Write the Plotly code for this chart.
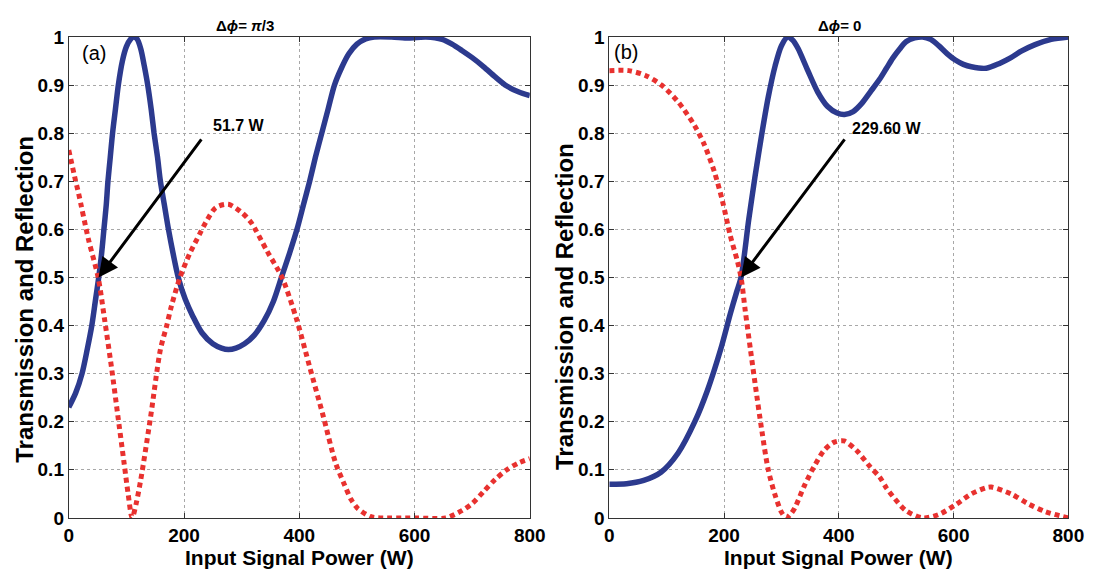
import plotly.graph_objects as go

# ---- data: panel (a), delta phi = pi/3 ----
power_a_T = [0, 12, 23, 32, 40, 46, 52, 57, 61, 65, 68, 72, 76, 81, 86, 93, 100, 107, 113, 119,
             125, 131, 137, 143, 148, 154, 159, 166, 173, 181, 190, 202, 215, 231, 250, 265, 277,
             290, 305, 322, 339, 355, 369, 383, 396, 407, 418, 428, 439, 450, 461, 473, 486, 500,
             515, 530, 560, 590, 620, 648, 665, 682, 700, 720, 740, 760, 780, 800]
trans_a = [0.23, 0.26, 0.30, 0.35, 0.40, 0.45, 0.50, 0.55, 0.60, 0.65, 0.70, 0.75, 0.80, 0.85, 0.90,
           0.95, 0.98, 0.995, 1.00, 0.995, 0.975, 0.94, 0.90, 0.85, 0.80, 0.75, 0.70, 0.65, 0.60,
           0.55, 0.50, 0.455, 0.42, 0.385, 0.362, 0.353, 0.35, 0.353, 0.362, 0.38, 0.41, 0.45,
           0.50, 0.55, 0.60, 0.65, 0.70, 0.75, 0.80, 0.85, 0.90, 0.935, 0.965, 0.985, 0.996, 1.00,
           1.00, 0.998, 1.00, 0.995, 0.985, 0.972, 0.957, 0.938, 0.917, 0.898, 0.886, 0.878]

power_a_R = [0, 12, 17, 34, 51, 62, 74, 85, 96, 103, 110, 117, 125, 142, 159, 170, 178, 193, 210,
             227, 238, 255, 277, 300, 316, 344, 370, 395, 418, 441, 463, 478, 490, 501, 523, 540,
             600, 654, 682, 700, 720, 740, 760, 780, 800]
refl_a = [0.765, 0.70, 0.675, 0.58, 0.50, 0.414, 0.314, 0.214, 0.114, 0.05, 0.0, 0.03, 0.08, 0.21,
          0.35, 0.40, 0.44, 0.50, 0.55, 0.59, 0.615, 0.645, 0.652, 0.635, 0.615, 0.555, 0.50, 0.414,
          0.314, 0.214, 0.114, 0.07, 0.038, 0.02, 0.003, 0.0, 0.0, 0.0, 0.015, 0.03, 0.055, 0.08,
          0.10, 0.114, 0.123]

# ---- data: panel (b), delta phi = 0 ----
power_b_T = [0, 30, 60, 90, 120, 149, 171, 194, 211, 222, 229.6, 243, 254, 266, 277, 289, 300, 311,
             320, 329, 346, 363, 380, 397, 410, 425, 440, 455, 471, 483, 494, 506, 517, 532, 546,
             560, 574, 589, 603, 617, 631, 657, 680, 700, 717, 742, 770, 800]
trans_b = [0.07, 0.071, 0.078, 0.095, 0.135, 0.20, 0.265, 0.35, 0.425, 0.47, 0.50, 0.62, 0.71, 0.80,
           0.875, 0.94, 0.982, 1.00, 0.993, 0.976, 0.93, 0.886, 0.856, 0.842, 0.839, 0.845, 0.862,
           0.886, 0.912, 0.935, 0.956, 0.975, 0.99, 0.998, 1.00, 0.995, 0.982, 0.965, 0.952, 0.943,
           0.938, 0.935, 0.945, 0.957, 0.97, 0.984, 0.995, 1.00]

power_b_R = [0, 34, 63, 91, 120, 149, 166, 183, 197, 211, 223, 229.6, 237, 246, 254, 266, 277, 289,
             300, 308, 316, 323, 340, 357, 374, 391, 409, 431, 454, 471, 483, 494, 517, 546, 574,
             603, 631, 657, 666, 700, 729, 760, 800]
refl_b = [0.93, 0.93, 0.92, 0.90, 0.865, 0.815, 0.775, 0.72, 0.66, 0.586, 0.535, 0.50, 0.43, 0.35,
          0.28, 0.18, 0.10, 0.047, 0.012, 0.0, 0.008, 0.02, 0.067, 0.107, 0.14, 0.157, 0.16, 0.14,
          0.107, 0.085, 0.062, 0.045, 0.015, 0.0, 0.007, 0.027, 0.05, 0.063, 0.064, 0.05, 0.03,
          0.013, 0.0]

x_ticks = [0, 200, 400, 600, 800]
y_ticks = [0, 0.1, 0.2, 0.3, 0.4, 0.5, 0.6, 0.7, 0.8, 0.9, 1]
y_tick_text = ["0", "0.1", "0.2", "0.3", "0.4", "0.5", "0.6", "0.7", "0.8", "0.9", "1"]

crossing_a = (51.7, 0.5)
crossing_b = (229.60, 0.5)

W, H = 1104, 579
FONT = "Liberation Sans, Arial, sans-serif"
BLUE = "#2c3a8e"
RED = "#e8312f"


def px(x):
    return x / W


def py(y):
    return 1 - y / H


fig = go.Figure()


def add_pair(xT, T, xR, R, xa, ya):
    fig.add_trace(go.Scatter(x=xT, y=T, mode="lines", xaxis=xa, yaxis=ya,
                             line=dict(color=BLUE, width=5.5, shape="spline", smoothing=0.8),
                             showlegend=False))
    fig.add_trace(go.Scatter(x=xR, y=R, mode="lines", xaxis=xa, yaxis=ya,
                             line=dict(color=RED, width=5, dash="5px,4px", shape="spline",
                                       smoothing=0.8),
                             showlegend=False))


add_pair(power_a_T, trans_a, power_a_R, refl_a, "x", "y")
add_pair(power_b_T, trans_b, power_b_R, refl_b, "x2", "y2")

tickfont = dict(family=FONT, size=19, color="black", weight="bold")
common_x = dict(range=[0, 800], tickvals=x_ticks, ticktext=[str(v) for v in x_ticks],
                showgrid=True, gridcolor="#a8a8a8", griddash="dot", gridwidth=1,
                showline=True, linecolor="#333", linewidth=1, mirror="ticks",
                ticks="inside", ticklen=5, tickcolor="#333", tickfont=tickfont, zeroline=False)
common_y = dict(range=[0, 1], tickvals=y_ticks, ticktext=y_tick_text,
                showgrid=True, gridcolor="#a8a8a8", griddash="dot", gridwidth=1,
                showline=True, linecolor="#333", linewidth=1, mirror="ticks",
                ticks="inside", ticklen=5, tickcolor="#333", tickfont=tickfont, zeroline=False)

y_dom = [py(527), py(28)]
fig.update_layout(
    width=W, height=H, autosize=False,
    margin=dict(l=0, r=0, t=0, b=0),
    paper_bgcolor="white", plot_bgcolor="white",
    xaxis=dict(domain=[px(65), px(535)], anchor="y", **common_x),
    yaxis=dict(domain=y_dom, anchor="x", **common_y),
    xaxis2=dict(domain=[px(616), px(1084)], anchor="y2", **common_x),
    yaxis2=dict(domain=y_dom, anchor="x2", **common_y),
)


def label(text, x, y, size, xanchor="center", angle=0):
    return dict(text=text, x=px(x), y=py(y), xref="paper", yref="paper", xanchor=xanchor,
                yanchor="middle", showarrow=False, textangle=angle,
                font=dict(family=FONT, size=size, color="black"))


ann = []
# panel titles
ann.append(label("<b>Δ<i>ϕ</i>= <i>π</i>/3</b>", 245, 16, 15))
ann.append(label("<b>Δ<i>ϕ</i>= 0</b>", 851, 16, 15))
# panel letters
ann.append(label("(a)", 76, 45, 20, xanchor="left"))
ann.append(label("(b)", 619, 44, 20, xanchor="left"))
# axis titles
for cx in (300, 850):
    ann.append(label("<b>Input Signal Power (W)</b>", cx, 568, 21))
for cx, cy in ((19, 300), (571, 308)):
    ann.append(label("<b>Transmission and Reflection</b>", cx, cy, 24, angle=-90))
# crossing-point arrows and labels
ann.append(dict(x=crossing_a[0], y=crossing_a[1], ax=232, ay=0.79, xref="x", yref="y",
                axref="x", ayref="y", text="", showarrow=True, arrowhead=2, arrowsize=1.3,
                arrowwidth=3, arrowcolor="black"))
ann.append(dict(text="<b>%.1f W</b>" % crossing_a[0], x=247, y=0.816, xref="x", yref="y",
                xanchor="left", yanchor="middle", showarrow=False,
                font=dict(family=FONT, size=16, color="black")))
ann.append(dict(x=crossing_b[0], y=crossing_b[1], ax=412, ay=0.79, xref="x2", yref="y2",
                axref="x2", ayref="y2", text="", showarrow=True, arrowhead=2, arrowsize=1.3,
                arrowwidth=3, arrowcolor="black"))
ann.append(dict(text="<b>%.2f W</b>" % crossing_b[0], x=419, y=0.81, xref="x2", yref="y2",
                xanchor="left", yanchor="middle", showarrow=False,
                font=dict(family=FONT, size=16, color="black")))
fig.update_layout(annotations=ann)

fig.write_html("out.html")
